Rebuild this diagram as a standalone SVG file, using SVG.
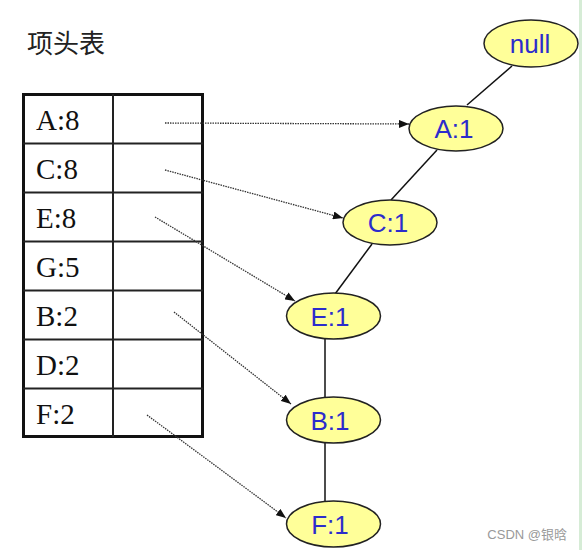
<svg xmlns="http://www.w3.org/2000/svg" width="582" height="550" viewBox="0 0 582 550">
<style>
.node ellipse{fill:#ffff99;stroke:#222;stroke-width:1.5}
.node text{font-family:"Liberation Sans",Arial,sans-serif;font-size:26px;fill:#2c2ccc;text-anchor:middle}
.cell{font-family:"Liberation Serif","Times New Roman",serif;font-size:29px;fill:#111}
.dot{stroke:#333;stroke-width:1.3;stroke-dasharray:1.5 1;fill:none;marker-end:url(#ah)}
.solid{stroke:#111;stroke-width:1.5;fill:none}
.grid{stroke:#222;stroke-width:2;fill:none}
</style>
<defs>
<marker id="ah" viewBox="0 0 10 8" refX="10" refY="4" markerWidth="10" markerHeight="8" markerUnits="userSpaceOnUse" orient="auto">
<path d="M0,0 L10,4 L0,8 Z" fill="#111"/>
</marker>
</defs>
<rect x="0" y="0" width="582" height="550" fill="#fff"/>
<rect x="579" y="0" width="3" height="550" fill="#d6ecd6"/>
<text x="27" y="53" style="font-family:'Noto Sans CJK SC',sans-serif;font-size:26px;fill:#222">项头表</text>
<g id="table">
<rect x="23.5" y="94.5" width="179" height="342" fill="#fff" stroke="#111" stroke-width="3"/>
<line class="grid" x1="113" y1="94" x2="113" y2="437"/>
<line class="grid" x1="23" y1="143.5" x2="203" y2="143.5"/>
<line class="grid" x1="23" y1="192.5" x2="203" y2="192.5"/>
<line class="grid" x1="23" y1="241.5" x2="203" y2="241.5"/>
<line class="grid" x1="23" y1="290.5" x2="203" y2="290.5"/>
<line class="grid" x1="23" y1="339.5" x2="203" y2="339.5"/>
<line class="grid" x1="23" y1="388.5" x2="203" y2="388.5"/>
<text class="cell" x="36" y="130">A:8</text>
<text class="cell" x="36" y="179">C:8</text>
<text class="cell" x="36" y="228">E:8</text>
<text class="cell" x="36" y="277">G:5</text>
<text class="cell" x="36" y="326">B:2</text>
<text class="cell" x="36" y="375">D:2</text>
<text class="cell" x="36" y="424">F:2</text>
</g>
<g id="connectors">
<line class="solid" x1="512" y1="66" x2="467" y2="105"/>
<line class="solid" x1="437" y1="150" x2="391" y2="200"/>
<line class="solid" x1="372" y1="244" x2="335" y2="294"/>
<line class="solid" x1="325" y1="338" x2="325" y2="398"/>
<line class="solid" x1="325" y1="442" x2="325" y2="502"/>
<line class="dot" x1="165" y1="123" x2="409" y2="124"/>
<line class="dot" x1="165" y1="170" x2="343" y2="218"/>
<line class="dot" x1="155" y1="217" x2="295" y2="301"/>
<line class="dot" x1="174" y1="312" x2="291" y2="404"/>
<line class="dot" x1="147" y1="415" x2="286" y2="518"/>
</g>
<g id="n-null" class="node"><ellipse cx="531" cy="43.5" rx="47" ry="23.5"/><text x="530" y="53">null</text></g>
<g id="n-A" class="node"><ellipse cx="456" cy="128.5" rx="47" ry="22.5"/><text x="454" y="138">A:1</text></g>
<g id="n-C" class="node"><ellipse cx="390" cy="222.5" rx="47" ry="22.5"/><text x="388" y="232">C:1</text></g>
<g id="n-E" class="node"><ellipse cx="333.5" cy="316" rx="47" ry="23"/><text x="330" y="325.5">E:1</text></g>
<g id="n-B" class="node"><ellipse cx="333.5" cy="420" rx="47" ry="23"/><text x="330" y="429.5">B:1</text></g>
<g id="n-F" class="node"><ellipse cx="333.5" cy="524" rx="47" ry="23"/><text x="330" y="533.5">F:1</text></g>
<text x="567" y="539" text-anchor="end" style="font-family:'Liberation Sans','Noto Sans CJK SC',sans-serif;font-size:13px;fill:#999">CSDN @银晗</text>
</svg>
